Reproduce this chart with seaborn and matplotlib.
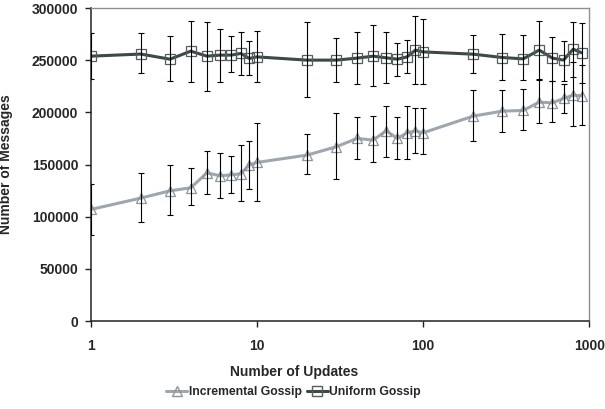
import numpy as np
import pandas as pd
import matplotlib
matplotlib.use("Agg")
import matplotlib.pyplot as plt
import seaborn as sns

# ---- data ----
updates = [1, 2, 3, 4, 5, 6, 7, 8, 9, 10, 20, 30, 40, 50, 60, 70, 80, 90, 100,
           200, 300, 400, 500, 600, 700, 800, 900]

inc_mean = [107000, 117900, 124900, 127800, 142100, 139300, 140200, 141200, 149800, 152100,
            159100, 167100, 175100, 173500, 182400, 175100, 180500, 182400, 180500,
            196500, 201300, 201900, 209900, 209200, 213400, 216600, 216000]
inc_hi = [131000, 142100, 149200, 146600, 163200, 161300, 158400, 168700, 172800, 190100,
          179200, 199700, 195500, 196800, 206400, 195800, 206400, 203900, 203900,
          221400, 221400, 222100, 231700, 230000, 226900, 248000, 245400]
inc_lo = [82400, 94600, 101300, 111200, 121400, 117600, 123000, 115300, 126500, 114700,
          140600, 136100, 155000, 152100, 157200, 155000, 155000, 161000, 159800,
          172800, 180900, 182800, 189500, 190400, 199100, 187200, 187600]

uni_mean = [254000, 256000, 251100, 258800, 254000, 255000, 255000, 256600, 251800, 253300,
            250200, 250200, 252100, 254000, 252400, 251100, 253300, 259800, 258100,
            255900, 252700, 251400, 259800, 252100, 250200, 260700, 257200]
uni_hi = [276300, 275800, 273800, 287800, 287200, 280500, 273200, 276700, 269000, 278300,
          287200, 271500, 277300, 283400, 276700, 266800, 269300, 292300, 289500,
          274400, 274800, 274400, 287800, 272500, 268700, 287000, 285900]
uni_lo = [231700, 237400, 230300, 229100, 220700, 229100, 238400, 236100, 235500, 228800,
          214400, 229100, 227200, 225600, 228100, 235100, 237700, 227500, 226900,
          237700, 230700, 230700, 231000, 230000, 230300, 234200, 227800]

series_names = ["Incremental Gossip", "Uniform Gossip"]
x_ticks = [1, 10, 100, 1000]
y_ticks = [0, 50000, 100000, 150000, 200000, 250000, 300000]

# ---- style ----
sns.set_theme(style="white")
plt.rcParams['font.family'] = ['Liberation Sans', 'DejaVu Sans']

df = pd.DataFrame({
    "updates": updates * 2,
    "messages": inc_mean + uni_mean,
    "series": [series_names[0]] * len(updates) + [series_names[1]] * len(updates),
})

fig = plt.figure(figsize=(6.05, 4.09), dpi=100)
ax = fig.add_axes([0.150, 0.215, 0.824, 0.765])

palette = {series_names[0]: "#9ea6ae", series_names[1]: "#3b4948"}
edge = {series_names[0]: "#8c949c", series_names[1]: "#555e5e"}
sns.lineplot(data=df, x="updates", y="messages", hue="series", style="series",
             markers={series_names[0]: "^", series_names[1]: "s"}, dashes=False,
             palette=palette, linewidth=2.2, markersize=7, markerfacecolor="none",
             markeredgewidth=0.9, ax=ax, legend=False)

for line, name in zip(ax.lines, series_names):
    line.set_markeredgecolor(edge[name])

# error bars
for mean, lo, hi in [(inc_mean, inc_lo, inc_hi), (uni_mean, uni_lo, uni_hi)]:
    mean = np.array(mean)
    yerr = [mean - np.array(lo), np.array(hi) - mean]
    ax.errorbar(updates, mean, yerr=yerr, fmt="none", ecolor="black",
                elinewidth=0.8, capsize=2.5, capthick=0.8, zorder=3)

ax.set_xscale("log")
ax.set_xlim(1, 1000)
ax.set_ylim(0, 300000)
ax.set_xticks(x_ticks)
ax.set_xticklabels([str(t) for t in x_ticks], fontsize=10, fontweight="bold")
ax.set_yticks(y_ticks)
ax.set_yticklabels([str(t) for t in y_ticks], fontsize=10, fontweight="bold")
ax.xaxis.set_minor_locator(matplotlib.ticker.NullLocator())

ax.tick_params(axis="both", which="major", direction="out", length=4, width=1,
               color="#222222", left=True, bottom=True)
ax.tick_params(axis="y", pad=5)
ax.tick_params(axis="x", pad=9)

for s in ["left", "bottom"]:
    ax.spines[s].set_color("#222222")
    ax.spines[s].set_linewidth(1.1)
for s in ["top", "right"]:
    ax.spines[s].set_color("#8a9196")
    ax.spines[s].set_linewidth(1.0)

ax.set_xlabel("Number of Updates", fontsize=10, fontweight="bold")
ax.set_ylabel("Number of Messages", fontsize=10, fontweight="bold")
ax.xaxis.set_label_coords(0.407, -0.14)
ax.yaxis.set_label_coords(-0.155, 0.5)

# legend at the bottom
handles = [
    matplotlib.lines.Line2D([], [], color=palette[n], lw=2.2,
                            marker="^" if i == 0 else "s", markersize=7,
                            markerfacecolor="none", markeredgecolor=edge[n])
    for i, n in enumerate(series_names)
]
fig.legend(handles, series_names, loc="center", bbox_to_anchor=(0.485, 0.041),
           ncol=2, frameon=False, handlelength=1.8, handletextpad=0.1,
           columnspacing=0.4, prop={"size": 8.7, "weight": "bold"})

fig.savefig("out.png", dpi=100)
